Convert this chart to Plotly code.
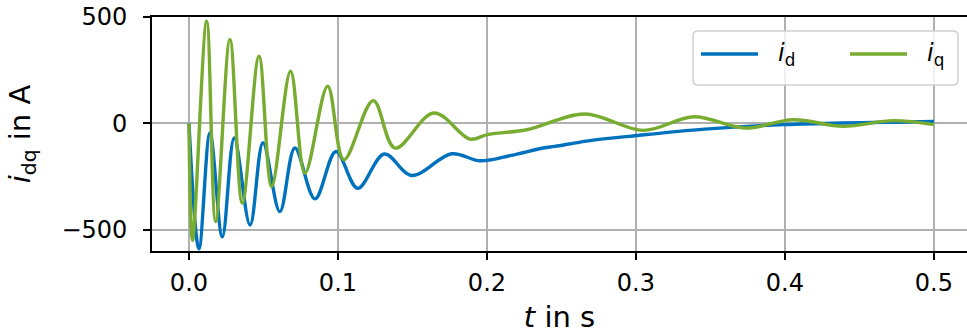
import plotly.graph_objects as go

# ---- data ----
t_d = [0.0, 0.0067, 0.0141, 0.0224, 0.0304, 0.0410, 0.0497, 0.0610, 0.0711, 0.0846,
       0.0987, 0.1132, 0.1311, 0.1495, 0.1763, 0.1953, 0.2154, 0.2378, 0.2456, 0.2680,
       0.2993, 0.3463, 0.3989, 0.5000]
i_d = [0, -590, -45, -533, -69, -478, -91, -415, -116, -355,
       -132, -305, -144, -245, -143, -176, -152, -116, -108, -82,
       -58, -27, -6, 9]

t_q = [0.0, 0.0024, 0.0119, 0.0179, 0.0275, 0.0358, 0.0470, 0.0555, 0.0682, 0.0779,
       0.0931, 0.1040, 0.1237, 0.1383, 0.1644, 0.1886, 0.2002, 0.2266, 0.2658, 0.3049,
       0.3390, 0.3732, 0.4056, 0.4391, 0.4727, 0.5000]
i_q = [0, -550, 480, -462, 395, -375, 316, -297, 245, -234,
       175, -171, 107, -116, 49, -74, -53, -30, 44, -33,
       31, -22, 17, -14, 13, -6]

x_ticks = [0.0, 0.1, 0.2, 0.3, 0.4, 0.5]
x_tick_labels = ["0.0", "0.1", "0.2", "0.3", "0.4", "0.5"]
y_ticks = [-500, 0, 500]
y_tick_labels = ["\u2212500", "0", "500"]

series_names = ["<i>i</i><sub>d</sub>", "<i>i</i><sub>q</sub>"]
colors = ["#0072BD", "#77AC30"]

W, H = 967, 334
L, R, T, B = 152, 0, 17, 83
pw, ph = W - L - R, H - T - B

def px(x):
    return (x - L) / pw

def py(y):
    return (H - B - y) / ph

fig = go.Figure()
fig.add_trace(go.Scatter(x=t_d, y=i_d, mode="lines", name=series_names[0],
                         line=dict(color=colors[0], width=3.4, shape="spline", smoothing=1.0),
                         showlegend=False))
fig.add_trace(go.Scatter(x=t_q, y=i_q, mode="lines", name=series_names[1],
                         line=dict(color=colors[1], width=3.4, shape="spline", smoothing=1.0),
                         showlegend=False))

font = "DejaVu Sans"
fig.update_layout(
    width=W, height=H,
    margin=dict(l=L, r=R, t=T, b=B, pad=0),
    paper_bgcolor="white", plot_bgcolor="white",
    font=dict(family=font, size=24, color="black"),
    xaxis=dict(range=[-0.0248, 0.5222], tickvals=x_ticks, ticktext=x_tick_labels,
               showgrid=True, gridcolor="#b0b0b0", gridwidth=1.5, zeroline=False,
               showline=True, linecolor="black", linewidth=1.6, mirror=True,
               ticks="outside", ticklen=7, tickwidth=1.5, tickcolor="black",
               tickfont=dict(size=24), ticklabelstandoff=2,
               title=dict(text="<i>t</i> in s", font=dict(size=29), standoff=14),
               automargin=False),
    yaxis=dict(range=[-600, 500], tickvals=y_ticks, ticktext=y_tick_labels,
               showgrid=True, gridcolor="#b0b0b0", gridwidth=1.5, zeroline=False,
               showline=True, linecolor="black", linewidth=1.6, mirror=False,
               ticks="outside", ticklen=7, tickwidth=1.5, tickcolor="black",
               tickfont=dict(size=24), ticklabelstandoff=11,
               title=dict(text="<i>i</i><sub>dq</sub> in A", font=dict(size=29), standoff=22),
               automargin=False),
)

# ---- legend drawn manually (matplotlib style) ----
x0, x1, y0, y1, r = 693, 958, 31, 85, 5
path = (f"M {px(x0 + r)},{py(y0)} L {px(x1 - r)},{py(y0)} "
        f"Q {px(x1)},{py(y0)} {px(x1)},{py(y0 + r)} L {px(x1)},{py(y1 - r)} "
        f"Q {px(x1)},{py(y1)} {px(x1 - r)},{py(y1)} L {px(x0 + r)},{py(y1)} "
        f"Q {px(x0)},{py(y1)} {px(x0)},{py(y1 - r)} L {px(x0)},{py(y0 + r)} "
        f"Q {px(x0)},{py(y0)} {px(x0 + r)},{py(y0)} Z")
fig.add_shape(type="path", path=path, xref="paper", yref="paper",
              line=dict(color="#d0d0d0", width=1.5), fillcolor="rgba(255,255,255,0.8)")
legend_items = [(701, 758, 776), (850, 907, 925)]
for (lx0, lx1, tx), name, c in zip(legend_items, series_names, colors):
    fig.add_shape(type="line", xref="paper", yref="paper",
                  x0=px(lx0), x1=px(lx1), y0=py(54), y1=py(54),
                  line=dict(color=c, width=3.4))
    fig.add_annotation(text=name, xref="paper", yref="paper", x=px(tx), y=py(55),
                       xanchor="left", yanchor="middle", showarrow=False,
                       font=dict(size=24, family=font))

fig.write_html("out.html", config={"displayModeBar": False},
               post_script="document.body.style.margin='0px';document.body.style.overflow='hidden';")
